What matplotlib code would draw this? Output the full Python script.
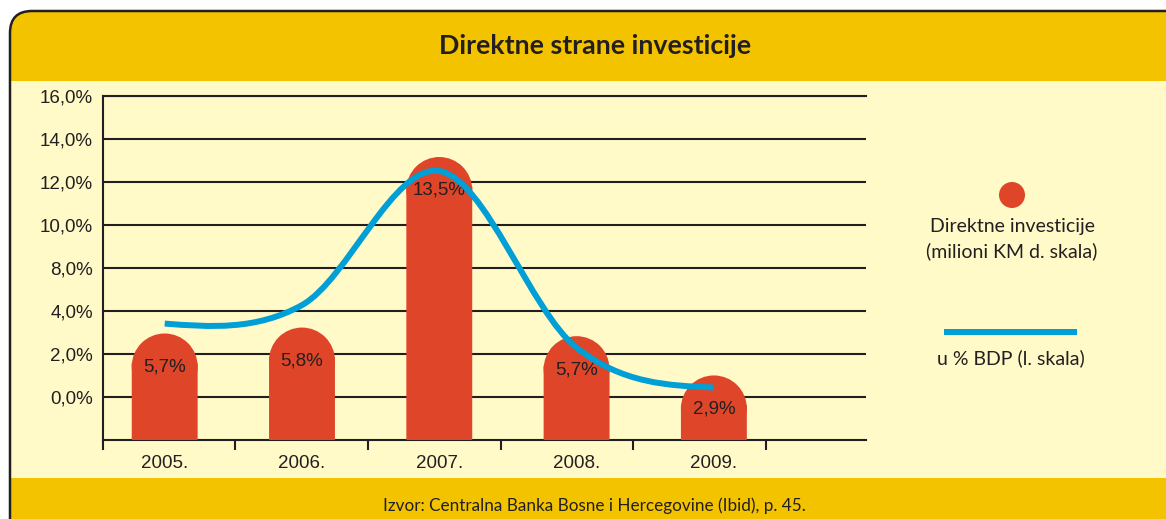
import numpy as np
import matplotlib.pyplot as plt
from matplotlib.patches import FancyBboxPatch, Rectangle, Ellipse, PathPatch, Circle
from matplotlib.path import Path
from matplotlib.lines import Line2D
from matplotlib.transforms import IdentityTransform

# data
years = ['2005.', '2006.', '2007.', '2008.', '2009.']
fdi_mil_km = [990, 1045, 2630, 965, 600]        # bars, right scale (not drawn)
fdi_labels = [5.7, 5.8, 13.5, 5.7, 2.9]         # values printed on the bars
bdp_pct = [3.41, 4.27, 10.5, 2.29, 0.44]        # line, left scale
ytick_pos = [0, 2, 4, 6, 8, 10, 12, 14]
ytick_labels = ['0,0%', '2,0%', '4,0%', '8,0%', '10,0%', '12,0%', '14,0%', '16,0%']

DARK = '#231f20'
GOLD = '#f3c300'
CREAM = '#fffac8'
RED = '#de4529'
BLUE = '#009fd6'
ARIAL = 'Liberation Sans'
CAL = 'Lato'

W, H = 1166, 519
fig = plt.figure(figsize=(W / 100, H / 100), dpi=100)
fig.patch.set_facecolor('white')
px = IdentityTransform()

# framed panel with header and footer bands (kept below the axes)
frame = FancyBboxPatch((10, -40), 1200, H - 11 + 40, boxstyle='round,pad=0,rounding_size=22',
                       transform=px, facecolor=CREAM, edgecolor='none', zorder=-3)
fig.add_artist(frame)
for y0, y1 in [(H - 81, H), (0, H - 478)]:
    band = Rectangle((0, y0), W, y1 - y0, transform=px, facecolor=GOLD, edgecolor='none', zorder=-2)
    fig.add_artist(band)
    band.set_clip_path(frame)
border = FancyBboxPatch((10, -40), 1200, H - 11 + 40, boxstyle='round,pad=0,rounding_size=22',
                        transform=px, facecolor='none', edgecolor=DARK, lw=1.8, zorder=-1)
fig.add_artist(border)

fig.text(595 / W, (H - 46) / H, 'Direktne strane investicije', ha='center', va='center',
         fontsize=19.3, fontweight='bold', family=CAL, color=DARK)
fig.text(594 / W, (H - 506) / H, 'Izvor: Centralna Banka Bosne i Hercegovine (Ibid), p. 45.',
         ha='center', va='center', fontsize=12.3, family=CAL, color=DARK)

# main axes (left scale)
x0, x1, ytop, ybot = 102.5, 866, 95.7, 440
ax = fig.add_axes([x0 / W, (H - ybot) / H, (x1 - x0) / W, (ybot - ytop) / H])
ax.set_facecolor('none')
ax.set_xlim(-0.453, 5.108)
ax.set_ylim(-2, 14)
for s in ['left', 'bottom', 'top']:
    ax.spines[s].set_color(DARK)
    ax.spines[s].set_linewidth(1.5)
ax.spines['right'].set_visible(False)
ax.set_yticks(ytick_pos, ytick_labels)
ax.yaxis.grid(True, color=DARK, lw=1.5)
ax.set_axisbelow(True)
ax.tick_params(axis='y', length=0, pad=7, labelsize=13.5, labelcolor=DARK)
ax.set_xticks(range(len(years)), years)
ax.tick_params(axis='x', which='major', length=0, pad=11, labelsize=13.5, labelcolor=DARK)
ax.set_xticks(np.arange(6) * 0.9665 - 0.453, minor=True)
ax.tick_params(axis='x', which='minor', length=7, width=1.5, color=DARK, direction='out')
for lab in ax.get_xticklabels() + ax.get_yticklabels():
    lab.set_family(ARIAL)

# hidden right scale for the bars
ax2 = ax.twinx()
ax2.set_ylim(0, 3200)
ax2.set_axis_off()

bw = 0.48
xpos = np.arange(len(years))
ax_w = x1 - x0
ax_h = ybot - ytop
r_px = bw * ax_w / 5.561 / 2
ry = r_px / (ax_h / 3200)
vals = np.array(fdi_mil_km, dtype=float)
bars = ax2.bar(xpos, vals - ry * 0.9, width=bw, color=RED, lw=0, zorder=2)
for b in bars:
    b.set_snap(False)
for i, v in enumerate(vals):
    ax2.add_patch(Ellipse((i, v - ry), bw, 2 * ry, facecolor=RED, edgecolor='none', zorder=2))
    ax2.annotate(f'{fdi_labels[i]:.1f}%'.replace('.', ','), (i, v), xytext=(0, -24),
                 textcoords='offset points', ha='center', va='center', fontsize=13.5,
                 family=ARIAL, color=DARK, zorder=3)

# smooth line through the % BDP points (cubic Hermite, Catmull-Rom tangents)
y = np.array(bdp_pct)
m = np.zeros_like(y)
m[1:-1] = (y[2:] - y[:-2]) / 2
m[0] = (3 * (y[1] - y[0]) - m[1]) / 2
m[-1] = (3 * (y[-1] - y[-2]) - m[-2]) / 2
verts = [(xpos[0], y[0])]
codes = [Path.MOVETO]
for i in range(len(y) - 1):
    verts += [(xpos[i] + 1 / 3, y[i] + m[i] / 3), (xpos[i + 1] - 1 / 3, y[i + 1] - m[i + 1] / 3),
              (xpos[i + 1], y[i + 1])]
    codes += [Path.CURVE4] * 3
ax2.add_patch(PathPatch(Path(verts, codes), transform=ax.transData, facecolor='none',
                        edgecolor=BLUE, lw=4.3, capstyle='butt', zorder=4))

# legend drawn at the right
fig.add_artist(Circle((1012, H - 195), 13, transform=px, facecolor=RED, edgecolor='none'))
fig.text(1012 / W, (H - 226.7) / H, 'Direktne investicije', ha='center', va='center',
         fontsize=14, family=CAL, color=DARK)
fig.text(1012 / W, (H - 251.7) / H, '(milioni KM d. skala)', ha='center', va='center',
         fontsize=14, family=CAL, color=DARK)
fig.add_artist(Line2D([944, 1077], [H - 331.7, H - 331.7], transform=px, color=BLUE, lw=4.3,
                      solid_capstyle='butt'))
fig.text(1011 / W, (H - 358) / H, 'u % BDP (l. skala)', ha='center', va='center',
         fontsize=14, family=CAL, color=DARK)

fig.savefig('out.png', dpi=100)
